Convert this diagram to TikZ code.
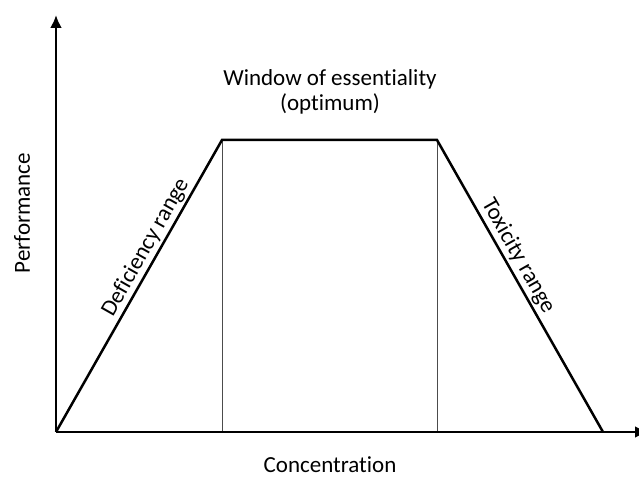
\documentclass[tikz,border=0pt]{standalone}
\usepackage{fontspec}
\setmainfont[Ligatures=NoCommon]{Carlito}
\usetikzlibrary{arrows.meta}
\begin{document}
\begin{tikzpicture}[x=1pt,y=1pt,
  axis/.style={line width=2.6pt,-{Latex[length=13pt,width=12pt]}},
  curve/.style={line width=2.5pt,line join=miter},
  thin/.style={line width=0.9pt,black!70},
  lbl/.style={font=\fontsize{23}{25}\selectfont,inner sep=2pt}]
\useasboundingbox (0,0) rectangle (639,476);
\coordinate (O) at (56,44);
\coordinate (Yt) at (56,461);
\coordinate (Xe) at (648,44);
\coordinate (A) at (222,336);
\coordinate (B) at (437,336);
\coordinate (C) at (603,44);
\coordinate (Ab) at (222,44);
\coordinate (Bb) at (437,44);
\draw[thin] (A) -- (Ab);
\draw[thin] (B) -- (Bb);
\draw[curve] (O) -- node[lbl,sloped,above,pos=0.61] (def) {Deficiency range} (A) -- (B) -- node[lbl,sloped,above,pos=0.42] (tox) {Toxicity range} (C);
\draw[axis] (O) -- (Yt);
\draw[axis] (O) -- (Xe);
\node[lbl,align=center] (win) at (330,384) {Window of essentiality\\(optimum)};
\node[lbl,rotate=90] (perf) at (22,263) {Performance};
\node[lbl] (conc) at (330,11) {Concentration};
\end{tikzpicture}
\end{document}
